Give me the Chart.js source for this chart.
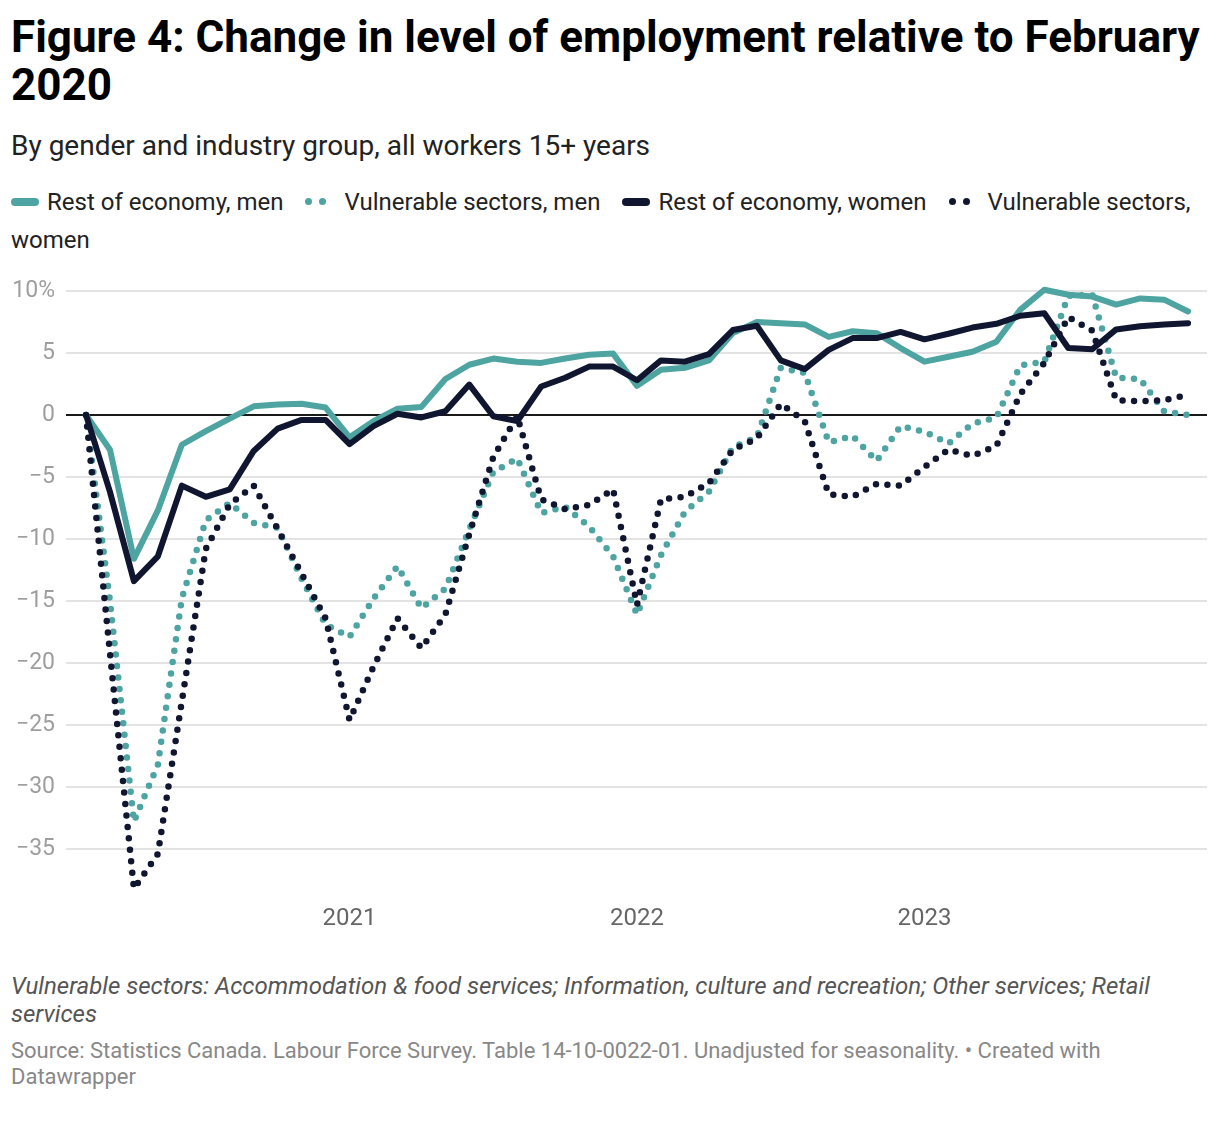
<!DOCTYPE html>
<html><head><meta charset="utf-8">
<script src="https://cdn.jsdelivr.net/npm/chart.js@4.4.1/dist/chart.umd.min.js"></script>
<style>
html,body{margin:0;padding:0;background:#fff;}
body{width:1220px;height:1130px;position:relative;font-family:Roboto,"Noto Sans",sans-serif;color:#000;overflow:hidden;}
#title{position:absolute;left:11px;top:13px;font-weight:700;font-size:44px;line-height:48px;white-space:nowrap;color:#000;}
#subtitle{position:absolute;left:11px;top:130px;font-size:28px;line-height:32px;color:#222;white-space:nowrap;}
#legend{position:absolute;left:11px;top:183px;width:1195px;font-size:24px;line-height:38px;color:#222;}
.sym{display:inline-block;vertical-align:middle;position:relative;top:-2px;}
.bar{width:28px;height:8px;border-radius:4px;margin-right:8px;}
.dots{width:22px;height:8px;margin-right:17px;}
.dots i{position:absolute;top:0;width:7px;height:7px;border-radius:50%;}
.gap{display:inline-block;width:22px;}
#chartbox{position:absolute;left:0;top:260px;width:1220px;height:680px;}
#note{position:absolute;left:11px;top:972px;font-size:24px;line-height:28px;font-style:italic;color:#555;white-space:nowrap;}
#source{position:absolute;left:11px;top:1038px;font-size:22px;line-height:26px;color:#888;white-space:nowrap;}
</style>
</head><body>
<div id="title">Figure 4: Change in level of employment relative to February<br>2020</div>
<div id="subtitle">By gender and industry group, all workers 15+ years</div>
<div id="legend"></div>
<div id="chartbox"><canvas id="c" width="1220" height="680"></canvas></div>
<div id="note">Vulnerable sectors: Accommodation &amp; food services; Information, culture and recreation; Other services; Retail<br>services</div>
<div id="source">Source: Statistics Canada. Labour Force Survey. Table 14-10-0022-01. Unadjusted for seasonality. • Created with<br>Datawrapper</div>
<script>
// Months: Feb 2020 – Dec 2023
const months = [
 "2020-02","2020-03","2020-04","2020-05","2020-06","2020-07","2020-08","2020-09","2020-10","2020-11","2020-12",
 "2021-01","2021-02","2021-03","2021-04","2021-05","2021-06","2021-07","2021-08","2021-09","2021-10","2021-11","2021-12",
 "2022-01","2022-02","2022-03","2022-04","2022-05","2022-06","2022-07","2022-08","2022-09","2022-10","2022-11","2022-12",
 "2023-01","2023-02","2023-03","2023-04","2023-05","2023-06","2023-07","2023-08","2023-09","2023-10","2023-11","2023-12"
];
const seriesNames = ["Rest of economy, men","Vulnerable sectors, men","Rest of economy, women","Vulnerable sectors, women"];
const restMen = [0,-2.8,-11.6,-7.7,-2.4,-1.3,-0.3,0.7,0.85,0.9,0.6,
 -1.8,-0.5,0.5,0.65,2.9,4.05,4.55,4.3,4.2,4.55,4.85,4.95,
 2.35,3.65,3.8,4.4,6.6,7.5,7.4,7.3,6.3,6.75,6.6,5.4,
 4.3,4.7,5.1,5.9,8.5,10.1,9.7,9.55,8.9,9.4,9.3,8.35];
const vulnMen = [0,-15,-32.8,-28.2,-14.8,-8.5,-7.1,-8.7,-9.1,-13.2,-16.9,
 -17.9,-14.8,-12.2,-15.6,-14.0,-9.2,-4.6,-3.5,-7.9,-7.4,-9.0,-11.4,
 -16.1,-11.3,-7.8,-6.2,-2.6,-1.8,3.8,3.4,-2.2,-1.7,-3.7,-0.9,
 -1.35,-2.3,-0.7,-0.2,4.0,4.3,9.6,9.7,3.0,2.9,0.3,0.0];
const restWomen = [0,-6.2,-13.4,-11.4,-5.7,-6.6,-6.0,-2.9,-1.1,-0.4,-0.4,
 -2.35,-0.9,0.1,-0.2,0.3,2.45,-0.1,-0.5,2.3,3.0,3.9,3.9,
 2.8,4.4,4.3,4.9,6.85,7.2,4.4,3.7,5.25,6.2,6.2,6.7,
 6.1,6.55,7.05,7.35,8.0,8.2,5.4,5.3,6.9,7.15,7.3,7.4];
const vulnWomen = [0,-19.2,-38.2,-35.4,-23.1,-10.8,-7.2,-5.7,-9.2,-12.8,-16.4,
 -24.6,-20.3,-16.4,-18.8,-16.1,-9.6,-3.4,-0.1,-6.8,-7.6,-7.25,-6.0,
 -15.3,-6.8,-6.6,-5.5,-2.8,-1.9,0.9,-0.5,-6.4,-6.6,-5.55,-5.7,
 -4.2,-2.8,-3.3,-2.5,1.7,4.2,7.9,6.8,1.2,1.1,1.2,1.6];
const yTicks = [-35,-30,-25,-20,-15,-10,-5,0,5,10];

const TEAL = "#4ea4a1", NAVY = "#111630";

// legend
const legendItems = [
  {name: seriesNames[0], color: TEAL, dotted:false},
  {name: seriesNames[1], color: TEAL, dotted:true},
  {name: seriesNames[2], color: NAVY, dotted:false},
  {name: seriesNames[3], color: NAVY, dotted:true}
];
const lg = document.getElementById('legend');
legendItems.forEach((it, k) => {
  const sym = document.createElement('span');
  if (it.dotted) {
    sym.className = 'sym dots';
    sym.innerHTML = '<i style="left:0;background:'+it.color+'"></i><i style="left:14px;background:'+it.color+'"></i>';
  } else {
    sym.className = 'sym bar';
    sym.style.background = it.color;
  }
  lg.appendChild(sym);
  lg.appendChild(document.createTextNode(it.name));
  if (k < legendItems.length - 1) {
    const g = document.createElement('span'); g.className = 'gap'; lg.appendChild(g);
  }
});

const yearIdx = months.map((m,i)=> m.endsWith('-01') ? i : -1).filter(i=>i>=0);
const toXY = arr => arr.map((v,i)=>({x:i, y:v}));

const solid = (label, data, color, order) => ({label, data: toXY(data), borderColor: color, backgroundColor: color,
  borderWidth: 6, pointRadius: 0, tension: 0, borderJoinStyle: 'round', borderCapStyle: 'round', clip: false, order});
const dotted = (label, data, color, order) => ({label, data: toXY(data), borderColor: color, backgroundColor: color,
  borderWidth: 6.5, borderDash: [0, 11.5], borderCapStyle: 'round', pointRadius: 0, tension: 0, clip: false, order});

new Chart(document.getElementById('c'), {
  type: 'line',
  data: { datasets: [
    solid(seriesNames[0], restMen, TEAL, 3),
    dotted(seriesNames[1], vulnMen, TEAL, 2),
    solid(seriesNames[2], restWomen, NAVY, 1),
    dotted(seriesNames[3], vulnWomen, NAVY, 0)
  ]},
  options: {
    responsive: false, animation: false, devicePixelRatio: 1,
    layout: { padding: { left: 0, right: 13, top: 28.5, bottom: 0 } },
    plugins: { legend: { display: false }, tooltip: { enabled: false } },
    scales: {
      x: {
        type: 'linear', min: -0.835, max: 46.79,
        grid: { display: false }, border: { display: false },
        afterBuildTicks: s => { s.ticks = yearIdx.map(v => ({ value: v })); },
        afterFit: s => { s.height = 46.4; },
        ticks: { autoSkip: false, maxRotation: 0, padding: 3, color: '#666', font: { family: 'Roboto', size: 24 },
          callback: v => months[v] ? months[v].slice(0,4) : '' }
      },
      y: {
        min: -38.6, max: 10.2,
        afterBuildTicks: s => { s.ticks = yTicks.map(v => ({ value: v })); },
        afterFit: s => { s.width = 66; },
        grid: { drawTicks: false, color: c => c.tick.value === 0 ? '#1a1a1a' : '#e3e3e3', lineWidth: 2 },
        border: { display: false },
        ticks: { padding: 11, color: '#9e9e9e', font: { family: 'Roboto', size: 23 },
          callback: v => v === 10 ? '10%' : (v < 0 ? '\u2212' + Math.abs(v) : String(v)) }
      }
    }
  }
});
</script>
</body></html>
